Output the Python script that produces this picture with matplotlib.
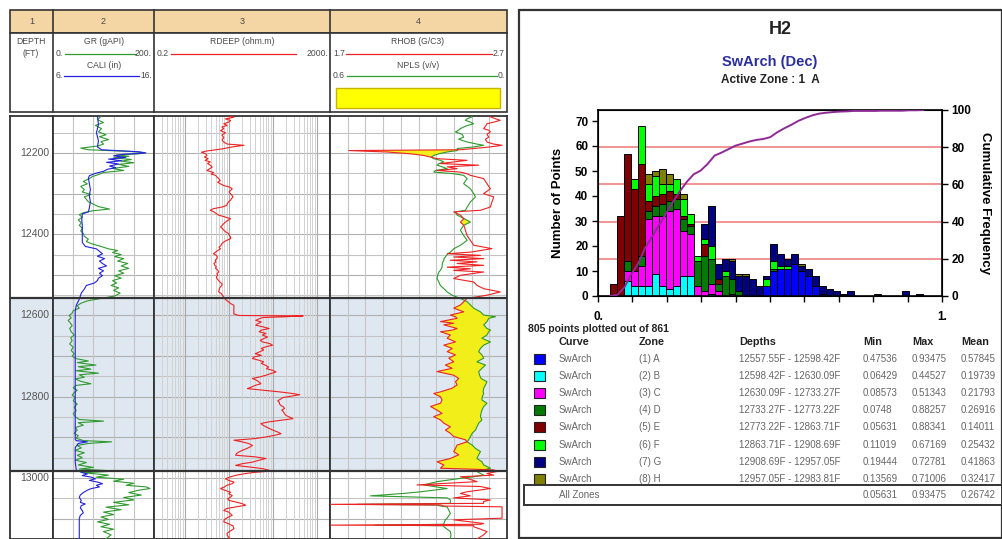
import numpy as np
import matplotlib
matplotlib.use("Agg")
import matplotlib.pyplot as plt
from matplotlib.patches import Rectangle
from matplotlib.lines import Line2D

plt.rcParams['font.family'] = ['Liberation Sans', 'DejaVu Sans']

# ---------------- DATA ----------------
depth_labels = [12200, 12400, 12600, 12800, 13000]
zone_top, zone_bot = 12557.55, 12983.81

gr_depth = [12110,12118,12125,12132,12140,12148,12155,12160,12167,12172,12178,12183,12188,12192,12196,12199,
            12202,12205,12208,12212,12216,12220,12224,12228,12233,12238,12243,12248,12253,12258,12263,12270,
            12276,12282,12290,12296,12302,12308,12314,12320,12326,12332,12338,12342,12347,12352,12358,12365,
            12372,12378,12385,12392,12398,12405,12412,12418,12424,12430,12436,12440,12445,12450,12455,12460,
            12466,12472,12478,12484,12490,12496,12502,12508,12514,12520,12526,12532,12538,12545,12552,12558,
            12564,12570,12576,12582,12588,12594,12600,12606,12612,12618,12625,12632,12640,12648,12655,12662,
            12670,12678,12686,12694,12700,12706,12712,12716,12722,12726,12732,12736,12742,12746,12752,12756,
            12762,12768,12772,12778,12784,12790,12796,12802,12810,12818,12826,12834,12842,12850,12856,12860,
            12864,12870,12876,12882,12890,12896,12902,12908,12911,12915,12920,12926,12932,12938,12944,12950,
            12956,12962,12968,12974,12978,12983,12987,12993,12998,13003,13008,13013,13018,13022,13026,13030,
            13036,13042,13048,13054,13060,13066,13072,13078,13084,13090,13096,13102,13108,13114,13120,13126,
            13132,13140,13150]
gr_api = [95,88,100,84,96,90,105,92,110,95,100,88,55,70,150,182,
          170,125,150,120,155,135,160,130,150,118,140,100,90,78,72,60,
          68,55,62,58,75,62,66,70,80,90,112,80,60,52,58,50,
          56,52,58,55,60,62,70,66,78,95,110,128,118,135,122,140,
          128,148,135,150,130,140,122,135,118,126,115,130,120,133,122,95,
          68,55,48,52,40,38,32,36,30,34,38,33,36,42,35,38,
          33,40,36,42,38,45,70,48,85,50,75,45,90,52,62,44,
          55,75,46,40,48,42,38,44,40,48,42,46,40,45,52,100,
          50,60,44,48,42,50,46,60,116,70,48,56,44,62,48,58,
          44,66,50,80,52,126,60,110,85,140,120,160,145,185,192,170,
          150,175,140,160,120,150,105,135,100,120,95,110,88,112,95,120,
          100,115,105]

cali_depth = [12108,12130,12150,12170,12185,12192,12197,12200,12203,12207,12211,12215,12219,12223,12227,12232,
              12236,12240,12245,12250,12256,12262,12275,12290,12305,12320,12335,12345,12350,12365,12380,12400,
              12420,12430,12436,12442,12448,12454,12460,12466,12472,12478,12484,12490,12496,12502,12508,12514,
              12520,12526,12535,12545,12560,12575,12590,12600,12905,12908,12911,12915,12925,12960,12980,12986,
              12990,12994,12998,13002,13006,13010,13014,13018,13022,13026,13030,13036,13042,13048,13055,13060,
              13064,13068,13074,13080,13086,13092,13100,13150]
cali_in = [10.4,10.5,10.3,10.5,10.4,10.8,14.5,15.2,13.0,12.0,13.2,11.5,12.8,11.3,12.5,11.6,
           12.2,11.4,11.0,10.2,9.6,9.5,9.6,9.7,9.6,9.7,9.6,9.5,8.9,8.85,8.9,8.9,
           8.9,9.2,10.3,10.6,10.9,10.4,11.1,10.6,10.9,11.3,10.5,11.0,10.6,10.9,10.5,10.4,
           10.1,9.3,9.1,8.8,8.6,8.3,8.2,8.2,8.2,8.3,9.4,8.5,8.2,8.2,8.3,8.8,
           9.4,8.9,9.8,10.2,9.6,10.4,10.9,10.3,10.6,9.8,9.4,9.0,8.7,8.6,8.8,8.7,
           9.2,8.8,8.7,8.9,9.0,8.7,8.6,8.6]

rdeep_depth = [12108,12112,12116,12120,12124,12128,12132,12136,12140,12145,12150,12156,12162,12168,12173,12178,
               12181,12185,12190,12195,12198,12202,12206,12210,12214,12218,12222,12226,12230,12235,12240,12243,
               12248,12252,12255,12260,12263,12268,12272,12276,12280,12284,12288,12292,12296,12300,12304,12308,
               12312,12316,12320,12325,12329,12333,12337,12341,12345,12349,12353,12357,12362,12366,12370,12374,
               12378,12382,12386,12390,12394,12398,12403,12407,12411,12415,12419,12423,12428,12432,12436,12440,
               12444,12448,12452,12456,12460,12464,12468,12472,12476,12480,12484,12488,12493,12497,12501,12505,
               12509,12514,12518,12522,12526,12530,12534,12538,12542,12546,12550,12555,12560,12564,12567,12571,
               12575,12580,12586,12591,12596,12600,12601,12603,12605,12608,12612,12616,12620,12624,12628,12632,
               12636,12640,12644,12648,12653,12657,12661,12665,12669,12673,12677,12681,12685,12690,12694,12698,
               12702,12706,12710,12714,12718,12723,12727,12731,12735,12739,12743,12747,12751,12755,12759,12763,
               12768,12772,12776,12780,12784,12788,12792,12795,12799,12802,12805,12810,12814,12817,12821,12825,
               12829,12833,12837,12842,12846,12850,12854,12858,12862,12866,12870,12874,12878,12882,12887,12891,
               12895,12899,12903,12907,12911,12915,12920,12924,12928,12932,12936,12940,12944,12948,12952,12956,
               12961,12965,12969,12973,12977,12981,12983,12986,12989,12993,12997,13002,13006,13010,13014,13018,
               13022,13026,13030,13035,13039,13043,13047,13051,13055,13059,13063,13067,13071,13075,13080,13084,
               13088,13092,13097,13102,13108,13113,13118,13125,13130,13136,13141,13146,13150]
rdeep_ohmm = [9.2,13.1,8.4,11.0,10.0,7.7,9.2,7.0,7.7,6.5,8.4,7.0,7.7,7.0,7.7,9.2,
              22.2,12.0,7.0,3.2,2.4,3.0,3.2,2.8,3.4,2.9,3.8,3.3,3.8,4.2,3.5,3.2,
              4.5,4.0,5.0,5.5,5.9,6.4,5.6,6.5,7.7,10.5,12.0,11.0,10.2,11.0,11.8,12.5,
              11.6,11.0,10.0,9.2,9.0,7.0,4.5,3.8,4.6,5.2,5.9,8.0,11.0,9.5,8.4,7.7,
              7.0,6.5,7.2,7.7,8.5,9.8,10.4,11.0,11.0,9.0,7.7,7.0,6.6,6.0,6.5,5.6,
              5.0,4.5,5.2,5.5,5.4,4.9,5.1,4.6,4.8,5.2,5.0,5.6,5.9,5.4,5.6,5.2,
              5.4,5.9,6.4,7.0,7.0,6.4,6.1,6.0,5.9,6.8,7.2,7.7,8.4,9.2,10.0,11.2,
              13.1,13.1,13.0,13.1,13.0,17.0,490,200,60,49,41,55,46,41,60,83,
              55,49,70,58,76,62,52,58,85,99,70,55,62,49,40,55,
              38,34.5,48,62,55,70,80,72,100,119,90,70,52,34.5,42,48,
              53.7,40,33,26.5,60,142,280,409,250,169,155,130,142,142,150,175,
              185,160,175,185,200,240,287,150,80,53.7,60,70,83,100,130,155,
              110,70,40,13.1,20,28,34.5,30,25,20.3,17,15,14.3,40,70,50,
              34.5,20,14.3,30,58.6,83,91,40,24.3,15,11,8.4,10,13.1,12.0,9,
              8,6.5,8,11,10,12.0,11,9.5,10.0,14,20,24.3,15,9,7.7,10,
              11,12.0,9.5,8,7.7,10,12.5,13.1,11,9.2,9.2,10,10.5]

t4_depth = [12107,12111,12115.5,12119.5,12124,12128,12134,12140,12144,12148,12154,12161,12166,12173,12178,12181,
            12185,12189,12192,12194,12197.5,12202,12206,12210,12214,12218,12222,12226,12230,12234,12238.5,12243,
            12247,12251,12255,12263,12275.5,12288,12300,12308,12320.5,12333,12341,12345,12353,12362,12370,12378,
            12390,12403,12415,12427,12435.5,12444,12448,12452,12456,12460,12464,12468,12472,12476.5,12481,12485,
            12489,12493,12501,12509,12517.5,12526,12534,12542,12550,12558,12566,12574,12582,12591,12599,12603,
            12607,12615,12619,12623,12632,12636,12640,12648,12656,12665,12673,12681,12689,12697,12705,12714,
            12722,12730,12738,12747,12755,12763,12771,12779,12788,12792,12800,12808,12816,12824,12833,12841,
            12849,12857,12865,12874,12882,12890,12898,12906,12911,12919,12927,12935,12943,12952,12960,12968,
            12976,12980,12984,12989,12993,12997,13001,13009,13017,13021,13026,13034,13038,13044,13049,13054,
            13058,13062.4,13064.9,13066.5,13069,13071,13087,13099,13103,13112,13114,13116,13117.5,13120,13132,13140,
            13150]
rhob_gc3 = [2.606,2.606,2.634,2.662,2.625,2.587,2.578,2.568,2.597,2.606,2.587,2.597,2.578,2.587,2.625,2.672,
            2.606,2.512,2.437,1.807,2.023,2.155,2.230,2.268,2.305,2.474,2.399,2.324,2.540,2.362,2.418,2.305,
            2.437,2.474,2.493,2.568,2.587,2.606,2.568,2.625,2.615,2.606,2.550,2.399,2.437,2.456,2.437,2.456,
            2.465,2.474,2.493,2.512,2.615,2.493,2.362,2.550,2.399,2.568,2.380,2.531,2.418,2.568,2.362,2.493,
            2.399,2.568,2.437,2.399,2.512,2.531,2.568,2.662,2.587,2.474,2.456,2.437,2.399,2.456,2.380,2.409,
            2.418,2.324,2.399,2.343,2.418,2.390,2.324,2.380,2.362,2.409,2.343,2.390,2.362,2.409,2.371,2.399,
            2.352,2.390,2.305,2.399,2.427,2.409,2.418,2.390,2.324,2.286,2.324,2.333,2.324,2.268,2.305,2.333,
            2.286,2.324,2.343,2.380,2.352,2.380,2.399,2.465,2.474,2.418,2.409,2.399,2.427,2.380,2.305,2.343,
            2.324,2.625,2.644,2.587,2.625,2.437,2.474,2.531,2.192,2.550,2.606,2.474,2.437,2.493,2.399,2.606,
            2.568,2.568,1.704,2.324,2.343,2.672,2.672,2.672,2.399,2.568,2.550,1.704,2.512,2.512,2.587,2.568,
            2.531]
npls_vv = [0.124,0.118,0.135,0.141,0.124,0.113,0.141,0.158,0.164,0.175,0.152,0.147,0.164,0.135,0.102,0.079,
           0.113,0.169,0.167,0.169,0.203,0.231,0.248,0.257,0.248,0.226,0.214,0.231,0.237,0.220,0.203,0.243,
           0.248,0.180,0.147,0.135,0.147,0.124,0.113,0.107,0.124,0.135,0.141,0.175,0.169,0.144,0.124,0.147,
           0.158,0.147,0.135,0.158,0.180,0.192,0.201,0.205,0.209,0.214,0.214,0.217,0.219,0.220,0.220,0.223,
           0.226,0.231,0.235,0.237,0.231,0.226,0.214,0.203,0.186,0.158,0.135,0.124,0.113,0.090,0.079,0.039,
           0.062,0.068,0.073,0.079,0.068,0.056,0.062,0.068,0.085,0.056,0.079,0.090,0.096,0.085,0.079,0.102,
           0.073,0.085,0.096,0.093,0.088,0.068,0.073,0.079,0.081,0.079,0.084,0.085,0.068,0.079,0.085,0.088,
           0.090,0.085,0.096,0.102,0.107,0.118,0.124,0.130,0.135,0.118,0.107,0.090,0.096,0.102,0.085,0.079,
           0.056,0.079,0.102,0.090,0.079,0.113,0.158,0.237,0.282,0.248,0.203,0.293,0.350,0.463,0.203,0.192,
           0.192,0.192,0.508,0.237,0.226,0.203,0.192,0.203,0.209,0.214,0.214,0.446,0.214,0.214,0.192,0.190,
           0.192]

# histogram counts per bin (45 bins) for each zone
zone_names = ['(1) A', '(2) B', '(3) C', '(4) D', '(5) E', '(6) F', '(7) G', '(8) H']
zone_colors = ['#0000ff', '#00ffff', '#ff00ff', '#007a00', '#7f0000', '#00ff00', '#000080', '#808000']
cnt_A = [0,0,0,0,0, 0,0,0,0,0, 0,0,0,0,0, 0,0,0,0,0, 0,0,4,10,11, 11,13,10,8,4, 1,0,0,0,0, 0,0,0,0,0, 0,0,0,0,0]
cnt_B = [0,0,6,4,4, 4,9,4,3,4, 8,8,0,0,1, 0,0,0,0,0, 0,0,0,0,0, 0,0,0,0,0, 0,0,0,0,0, 0,0,0,0,0, 0,0,0,0,0]
cnt_C = [0,0,4,6,8, 27,23,28,31,31, 18,17,4,2,4, 2,0,1,0,0, 0,0,0,0,0, 0,0,0,0,0, 0,0,0,0,0, 0,0,0,0,0, 0,0,0,0,0]
cnt_D = [0,0,4,0,4, 3,4,5,4,4, 5,3,10,14,10, 3,8,6,2,0, 0,0,0,1,0, 0,0,0,0,0, 0,0,0,0,0, 0,0,0,0,0, 0,0,0,0,0]
cnt_E = [5,32,43,33,37, 4,4,4,4,2, 1,1,0,5,0, 2,0,0,0,0, 0,0,0,0,0, 0,0,0,0,0, 0,0,0,0,0, 0,0,0,0,0, 0,0,0,0,0]
cnt_F = [0,0,0,4,15, 7,8,4,3,6, 7,4,2,2,5, 0,2,0,0,0, 0,0,3,3,1, 1,0,0,0,0, 0,0,0,0,0, 0,0,0,0,0, 0,0,0,0,0]
cnt_G = [0,0,0,0,0, 0,0,0,0,0, 0,0,0,6,16, 6,5,7,6,8, 7,4,1,7,5, 3,4,2,3,4, 3,3,2,1,2, 0,0,0,1,0, 0,0,2,0,1]
cnt_H = [0,0,0,0,0, 4,2,6,4,0, 2,0,0,0,0, 0,0,1,1,1, 0,0,0,0,0, 0,0,1,0,0, 0,0,0,0,0, 0,0,0,0,0, 0,0,0,0,0]
zone_counts = [cnt_A, cnt_B, cnt_C, cnt_D, cnt_E, cnt_F, cnt_G, cnt_H]

zone_depths = ['12557.55F - 12598.42F', '12598.42F - 12630.09F', '12630.09F - 12733.27F', '12733.27F - 12773.22F',
               '12773.22F - 12863.71F', '12863.71F - 12908.69F', '12908.69F - 12957.05F', '12957.05F - 12983.81F']
zone_min = ['0.47536', '0.06429', '0.08573', '0.0748', '0.05631', '0.11019', '0.19444', '0.13569']
zone_max = ['0.93475', '0.44527', '0.51343', '0.88257', '0.88341', '0.67169', '0.72781', '0.71006']
zone_mean = ['0.57845', '0.19739', '0.21793', '0.26916', '0.14011', '0.25432', '0.41863', '0.32417']
all_min, all_max, all_mean = '0.05631', '0.93475', '0.26742'

# ---------------- FIGURE ----------------
W, H = 1003, 539
fig = plt.figure(figsize=(W / 100, H / 100), dpi=100)
fig.patch.set_facecolor('white')

def box(x0, y0, x1, y1):
    return [x0 / W, 1 - y1 / H, (x1 - x0) / W, (y1 - y0) / H]

def ftext(x, y, s, **kw):
    kw.setdefault('va', 'center')
    fig.text(x / W, 1 - y / H, s, **kw)

def fline(x0, x1, y0, y1, color, lw=1.0):
    fig.add_artist(Line2D([x0 / W, x1 / W], [1 - y0 / H, 1 - y1 / H], color=color, lw=lw,
                          transform=fig.transFigure))

def frect(x0, y0, x1, y1, **kw):
    fig.add_artist(Rectangle((x0 / W, 1 - y1 / H), (x1 - x0) / W, (y1 - y0) / H,
                             transform=fig.transFigure, **kw))

DARK = '#333333'
TXT = '#4a4a4a'
GRN = '#2f9a2f'
RED = '#ee2222'
BLU = '#2222dd'
ZONE_BG = '#dfe7f1'
GRID = '#c4c4c4'

# ---- log headers ----
XS = [10, 53, 154, 330, 507]
frect(10, 10, 507, 33, facecolor='#f4d5a4', edgecolor=DARK, lw=1.2)
frect(10, 33, 507, 112, facecolor='white', edgecolor=DARK, lw=1.2)
for x in XS[1:-1]:
    fline(x, x, 10, 112, DARK, 1.2)
for i, (a, b) in enumerate(zip(XS[:-1], XS[1:])):
    ftext((a + b) / 2, 21.5, str(i + 1), ha='center', fontsize=6.5, color=TXT)

hs = 6.2
ftext(31, 42, 'DEPTH', ha='center', fontsize=hs, color=TXT)
ftext(31, 54, '(FT)', ha='center', fontsize=hs, color=TXT)

ftext(104, 42, 'GR (gAPI)', ha='center', fontsize=hs, color=TXT)
ftext(56, 54, '0.', ha='left', fontsize=hs, color=TXT)
fline(65, 136, 54, 54, GRN, 0.9)
ftext(152, 54, '200.', ha='right', fontsize=hs, color=TXT)
ftext(104, 65, 'CALI (in)', ha='center', fontsize=hs, color=TXT)
ftext(56, 76, '6.', ha='left', fontsize=hs, color=TXT)
fline(64, 139, 76, 76, BLU, 0.9)
ftext(152, 76, '16.', ha='right', fontsize=hs, color=TXT)

ftext(242, 42, 'RDEEP (ohm.m)', ha='center', fontsize=hs, color=TXT)
ftext(157, 54, '0.2', ha='left', fontsize=hs, color=TXT)
fline(171, 296, 54, 54, RED, 0.9)
ftext(328, 54, '2000.', ha='right', fontsize=hs, color=TXT)

ftext(418, 42, 'RHOB (G/C3)', ha='center', fontsize=hs, color=TXT)
ftext(333, 54, '1.7', ha='left', fontsize=hs, color=TXT)
fline(346, 492, 54, 54, RED, 0.9)
ftext(505, 54, '2.7', ha='right', fontsize=hs, color=TXT)
ftext(418, 65, 'NPLS (v/v)', ha='center', fontsize=hs, color=TXT)
ftext(333, 76, '0.6', ha='left', fontsize=hs, color=TXT)
fline(347, 497, 76, 76, GRN, 0.9)
ftext(505, 76, '0.', ha='right', fontsize=hs, color=TXT)
frect(336, 88, 500, 108, facecolor='#ffff00', edgecolor='#c8b400', lw=1.0)

# ---- log tracks ----
D_TOP, D_BOT = 12108.9, 13150.2
axes = []
for a, b in zip(XS[:-1], XS[1:]):
    ax = fig.add_axes(box(a, 116, b, 539))
    ax.set_ylim(D_BOT, D_TOP)
    ax.set_xticks([]); ax.set_yticks([])
    for s in ax.spines.values():
        s.set_color(DARK); s.set_linewidth(1.3)
    ax.axhspan(zone_top, zone_bot, color=ZONE_BG, zorder=0, lw=0)
    axes.append(ax)
t1, t2, t3, t4 = axes

t1.set_xlim(0, 1)
for d in depth_labels:
    t1.text(0.92, d, str(d), ha='right', va='center', fontsize=7.5, color='#555555')

t2.set_xlim(0, 200)
t3.set_xscale('log'); t3.set_xlim(0.2, 2000)
t3.set_xticks([], minor=True); t3.set_xticks([])
t4.set_xlim(1.7, 2.7)

for ax in (t2, t3, t4):
    for d in range(12150, 13151, 50):
        ax.axhline(d, color='#b0b0b0' if d % 100 == 0 else GRID, lw=0.8, zorder=1)
for g in [40, 80, 120, 160]:
    t2.axvline(g, color=GRID, lw=0.8, zorder=1)
for dec in [0.1, 1, 10, 100, 1000]:
    for m in range(1, 10):
        v = dec * m
        if 0.2 < v < 2000:
            t3.axvline(v, color='#aaaaaa' if m == 1 else '#d2d2d2', lw=0.8 if m == 1 else 0.7, zorder=1)
for g in np.arange(1.8, 2.65, 0.1):
    t4.axvline(g, color=GRID, lw=0.8, zorder=1)

cali_on_gr = (np.array(cali_in) - 6.0) / 10.0 * 200.0
t2.plot(gr_api, gr_depth, color=GRN, lw=0.8, zorder=3)
t2.plot(cali_on_gr, cali_depth, color=BLU, lw=0.8, zorder=3)
t3.plot(rdeep_ohmm, rdeep_depth, color=RED, lw=0.8, zorder=3)

rhob = np.array(rhob_gc3)
npls_on_rhob = 1.7 + (0.6 - np.array(npls_vv)) / 0.6
t4.fill_betweenx(t4_depth, rhob, npls_on_rhob, where=rhob < npls_on_rhob, interpolate=True,
                 color='#f2ee1a', lw=0, zorder=2)
t4.plot(npls_on_rhob, t4_depth, color=GRN, lw=0.8, zorder=3)
t4.plot(rhob, t4_depth, color=RED, lw=0.8, zorder=3)

for ax in axes:
    ax.axhline(zone_top, color=DARK, lw=1.6, zorder=5)
    ax.axhline(zone_bot, color=DARK, lw=1.6, zorder=5)

# ---- right panel ----
frect(519, 10, 1002, 538, facecolor='none', edgecolor=DARK, lw=1.6)
ftext(780, 30, 'H2', ha='center', fontsize=13, fontweight='bold', color='#222222')
ftext(770, 62, 'SwArch (Dec)', ha='center', fontsize=10.5, fontweight='bold', color='#2b2f9e')
ftext(770, 80, 'Active Zone : 1  A', ha='center', fontsize=8.5, fontweight='bold', color='#222222')

hx = fig.add_axes(box(598, 110, 942, 296))
BIN_LO, BIN_W = 0.036, 0.0202
lefts = BIN_LO + BIN_W * np.arange(len(cnt_A))
YMAX = 74.4
for v in [20, 40, 60, 80]:
    hx.axhline(v / 100 * YMAX, color='#f08a8a', lw=1.3, zorder=0)
bottom = np.zeros(len(cnt_A))
for cnt, col in zip(zone_counts, zone_colors):
    c = np.array(cnt, dtype=float)
    hx.bar(lefts[c > 0], c[c > 0], width=BIN_W, bottom=bottom[c > 0], align='edge', color=col,
           edgecolor='black', linewidth=0.7, zorder=2)
    bottom += c
hx.set_xlim(0, 1)
hx.set_ylim(0, YMAX)
hx.set_xticks(np.round(np.arange(0, 1.01, 0.1), 1))
hx.set_xticklabels(['0.'] + [''] * 9 + ['1.'])
hx.set_yticks(range(0, 71, 10))
hx.tick_params(axis='both', direction='out', length=4, width=1.0, labelsize=8.5, pad=3)
hx.tick_params(axis='x', pad=7)
for lab in hx.get_xticklabels() + hx.get_yticklabels():
    lab.set_fontweight('bold')
for s in hx.spines.values():
    s.set_linewidth(1.2)
hx.set_ylabel('Number of Points', fontsize=9.5, fontweight='bold', labelpad=8)

h2 = hx.twinx()
h2.set_ylim(0, 100)
h2.set_yticks(range(0, 101, 20))
h2.tick_params(axis='y', direction='out', length=4, width=1.0, labelsize=8.5, pad=3)
for lab in h2.get_yticklabels():
    lab.set_fontweight('bold')
h2.set_ylabel('Cumulative Frequency', fontsize=9.5, fontweight='bold', rotation=270, labelpad=14)
total = bottom.sum()
cum = np.concatenate([[0.0], np.cumsum(bottom) / total * 100.0])
edges = np.concatenate([[lefts[0]], lefts + BIN_W])
h2.plot(edges, cum, color='#8e2a96', lw=1.4, zorder=3)

# ---- table ----
ftext(528, 329, '805 points plotted out of 861', ha='left', fontsize=7.5, fontweight='bold', color='#222222')
cols = {'Curve': 559, 'Zone': 639, 'Depths': 739, 'Min': 863, 'Max': 912, 'Mean': 961}
for k, x in cols.items():
    ftext(x, 342, k, ha='left', fontsize=7.8, fontweight='bold', color='#222222')
row_y = [359, 376, 393, 410, 427, 445, 462, 479]
for i, y in enumerate(row_y):
    frect(534, y - 5, 545, y + 5, facecolor=zone_colors[i], edgecolor='#222222', lw=0.8)
    ftext(cols['Curve'], y, 'SwArch', ha='left', fontsize=7, color='#666666')
    ftext(cols['Zone'], y, zone_names[i], ha='left', fontsize=7, color='#666666')
    ftext(cols['Depths'], y, zone_depths[i], ha='left', fontsize=7, color='#666666')
    ftext(cols['Min'], y, zone_min[i], ha='left', fontsize=7, color='#666666')
    ftext(cols['Max'], y, zone_max[i], ha='left', fontsize=7, color='#666666')
    ftext(cols['Mean'], y, zone_mean[i], ha='left', fontsize=7, color='#666666')
frect(524, 485, 1002, 505, facecolor='white', edgecolor=DARK, lw=1.4)
ftext(cols['Curve'], 495, 'All Zones', ha='left', fontsize=7, color='#666666')
ftext(cols['Min'], 495, all_min, ha='left', fontsize=7, color='#666666')
ftext(cols['Max'], 495, all_max, ha='left', fontsize=7, color='#666666')
ftext(cols['Mean'], 495, all_mean, ha='left', fontsize=7, color='#666666')

fig.savefig('out.png', dpi=100)
